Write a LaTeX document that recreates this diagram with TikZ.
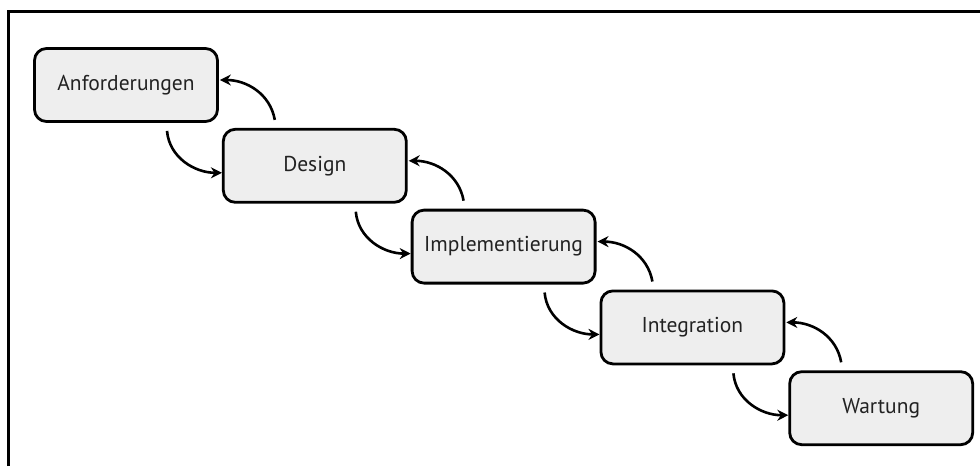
\documentclass[tikz,border=0pt]{standalone}
\usepackage{fontspec}
\setmainfont{PT Sans}
\usetikzlibrary{positioning,arrows.meta}
\definecolor{boxgray}{RGB}{238,238,238}
\definecolor{textdark}{RGB}{34,34,34}

\begin{document}
\begin{tikzpicture}[x=1pt, y=1pt,
    phase/.style={draw, line width=2.8pt, rounded corners=12pt, fill=boxgray,
        minimum width=183pt, minimum height=73pt, inner sep=0pt,
        text=textdark, font=\fontsize{21.5}{24}\selectfont},
    flow/.style={line width=2.6pt, -{Stealth[length=11pt, width=11pt]}}]
    \useasboundingbox (0,0) rectangle (980,-466);

    % Frame
    \draw[line width=3pt] (8,-466) -- (8,-11) -- (980,-11);

    % Phases
    \node[phase] (anf) at (126,-85) {Anforderungen};
    \node[phase, below right=5pt and 3pt of anf] (des) {Design};
    \node[phase, below right=5pt and 3pt of des] (imp) {Implementierung};
    \node[phase, below right=5pt and 3pt of imp] (int) {Integration};
    \node[phase, below right=5pt and 3pt of int] (war) {Wartung};

    % Arrows down and back up
    \foreach \from/\to in {anf/des, des/imp, imp/int, int/war} {
        \draw[flow] ([xshift=41pt, yshift=-8pt]\from.south) to[out=-85, in=180] ([yshift=-7pt]\to.west);
        \draw[flow] ([xshift=-40pt, yshift=8pt]\to.north) to[out=100, in=0] ([xshift=1pt, yshift=5pt]\from.east);
    }

\end{tikzpicture}
\end{document}
